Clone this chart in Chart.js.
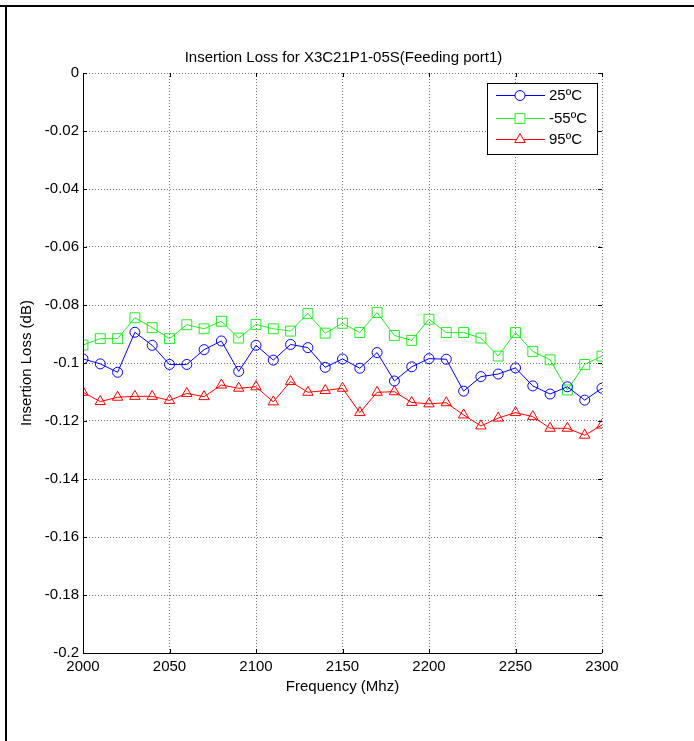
<!DOCTYPE html>
<html>
<head>
<meta charset="utf-8">
<script src="https://cdn.jsdelivr.net/npm/chart.js@4.4.1/dist/chart.umd.min.js"></script>
<style>
  html, body { margin: 0; padding: 0; background: #fff; }
  #wrap { position: relative; width: 694px; height: 741px; }
</style>
</head>
<body>
<div id="wrap"><canvas id="chart" width="694" height="741"></canvas></div>
<script>
// frequency points (MHz)
const freqs = [2000, 2010, 2020, 2030, 2040, 2050, 2060, 2070, 2080, 2090,
               2100, 2110, 2120, 2130, 2140, 2150, 2160, 2170, 2180, 2190,
               2200, 2210, 2220, 2230, 2240, 2250, 2260, 2270, 2280, 2290, 2300]

// insertion loss (dB)
const loss25 = [-0.0986, -0.1003, -0.1032, -0.0894, -0.0939, -0.1005, -0.1005, -0.0954, -0.0924, -0.1029,
                -0.0939, -0.0990, -0.0936, -0.0947, -0.1015, -0.0986, -0.1018, -0.0964, -0.1062, -0.1013,
                -0.0985, -0.0987, -0.1097, -0.1047, -0.1038, -0.1017, -0.1079, -0.1107, -0.1082, -0.1128, -0.1087]
const lossM55 = [-0.0938, -0.0916, -0.0916, -0.0844, -0.0878, -0.0916, -0.0868, -0.0882, -0.0856, -0.0914,
                 -0.0867, -0.0882, -0.0890, -0.0829, -0.0897, -0.0863, -0.0895, -0.0826, -0.0905, -0.0922,
                 -0.0849, -0.0895, -0.0895, -0.0914, -0.0976, -0.0895, -0.0960, -0.0989, -0.1093, -0.1005, -0.0976]
const loss95 = [-0.1101, -0.1133, -0.1118, -0.1115, -0.1115, -0.1129, -0.1105, -0.1116, -0.1076, -0.1087,
                -0.1082, -0.1134, -0.1064, -0.1101, -0.1095, -0.1087, -0.1171, -0.1101, -0.1099, -0.1136,
                -0.1141, -0.1137, -0.1179, -0.1217, -0.1190, -0.1171, -0.1185, -0.1225, -0.1225, -0.1249, -0.1214]

const seriesNames = ["25ºC", "-55ºC", "95ºC"]
const xTicks = [2000, 2050, 2100, 2150, 2200, 2250, 2300]
const yTicks = [0, -0.02, -0.04, -0.06, -0.08, -0.1, -0.12, -0.14, -0.16, -0.18, -0.2]
const chartTitle = "Insertion Loss for X3C21P1-05S(Feeding port1)"

const FONT = "'Liberation Sans', Arial, sans-serif"
const GRID = "rgba(0,0,0,0.55)"

const toPoints = (vals) => freqs.map((f, i) => ({ x: f, y: vals[i] }))

const makeSet = (name, vals, color, style, radius) => ({
    label: name,
    data: toPoints(vals),
    borderColor: color,
    backgroundColor: "rgba(0,0,0,0)",
    borderWidth: 1,
    pointStyle: style,
    pointRadius: radius,
    pointHoverRadius: radius,
    pointBorderColor: color,
    pointBackgroundColor: "rgba(0,0,0,0)",
    pointBorderWidth: 1,
    tension: 0
})

// figure frame, title, axes lines, inward ticks, legend
const decorations = {
    id: "decorations",
    beforeDraw(chart) {
        const ctx = chart.ctx
        ctx.save()
        ctx.fillStyle = "#000"
        ctx.fillRect(0, 5, chart.width, 2)
        ctx.fillRect(5, 5, 2, chart.height)
        ctx.restore()
    },
    afterDraw(chart) {
        const ctx = chart.ctx
        const xs = chart.scales.x, ys = chart.scales.y
        const a = chart.chartArea
        ctx.save()

        // title, centred over the axes box
        ctx.fillStyle = "#000"
        ctx.font = "15px " + FONT
        ctx.textAlign = "center"
        ctx.textBaseline = "middle"
        ctx.fillText(chartTitle, (a.left + a.right) / 2 + 1, 58)

        ctx.strokeStyle = "#000"
        ctx.lineWidth = 1
        ctx.beginPath()
        // left and bottom axis lines
        ctx.moveTo(Math.round(a.left) + 0.5, a.top)
        ctx.lineTo(Math.round(a.left) + 0.5, Math.round(a.bottom) + 0.5)
        ctx.lineTo(a.right, Math.round(a.bottom) + 0.5)
        xTicks.forEach(v => {
            const px = Math.round(xs.getPixelForValue(v)) + 0.5
            ctx.moveTo(px, a.bottom); ctx.lineTo(px, a.bottom - 4)
            ctx.moveTo(px, a.top); ctx.lineTo(px, a.top + 4)
        })
        yTicks.forEach(v => {
            const py = Math.round(ys.getPixelForValue(v)) + 0.5
            ctx.moveTo(a.left, py); ctx.lineTo(a.left + 4, py)
            ctx.moveTo(a.right, py); ctx.lineTo(a.right - 4, py)
        })
        ctx.stroke()

        // legend
        const lx = 487, ly = 83, lw = 110, lh = 71
        ctx.fillStyle = "#fff"
        ctx.fillRect(lx, ly, lw, lh)
        ctx.strokeStyle = "#000"
        ctx.strokeRect(lx + 0.5, ly + 0.5, lw, lh)
        ctx.font = "15px " + FONT
        ctx.textBaseline = "middle"
        ctx.textAlign = "left"
        const rows = [95, 118, 139]
        chart.data.datasets.forEach((ds, i) => {
            const y = rows[i] + 0.5
            ctx.strokeStyle = ds.borderColor
            ctx.beginPath()
            ctx.moveTo(496, y); ctx.lineTo(545, y)
            ctx.stroke()
            ctx.fillStyle = "#fff"
            Chart.helpers.drawPoint(ctx, {
                pointStyle: ds.pointStyle,
                radius: ds.pointRadius,
                borderWidth: 1,
                rotation: 0
            }, 520, y)
            ctx.fillStyle = "#000"
            ctx.fillText(seriesNames[i], 549, rows[i] + 1)
        })
        ctx.restore()
    }
}

const chart = new Chart(document.getElementById("chart"), {
    type: "line",
    data: {
        datasets: [
            makeSet(seriesNames[0], loss25, "#0000ff", "circle", 5),
            makeSet(seriesNames[1], lossM55, "#22ee22", "rect", 7),
            makeSet(seriesNames[2], loss95, "#ff0000", "triangle", 6)
        ]
    },
    options: {
        responsive: false,
        animation: false,
        events: [],
        layout: { padding: { left: 0, right: 92, top: 73, bottom: 0 } },
        plugins: {
            legend: { display: false },
            tooltip: { enabled: false },
            title: { display: false }
        },
        scales: {
            x: {
                type: "linear",
                min: 2000,
                max: 2300,
                afterFit: (s) => { s.height = 88 },
                afterBuildTicks: (s) => { s.ticks = xTicks.map(v => ({ value: v })) },
                ticks: {
                    color: "#000",
                    font: { family: FONT, size: 15 },
                    padding: 5,
                    maxRotation: 0,
                    callback: (v) => String(v)
                },
                grid: { drawTicks: false, color: GRID, lineWidth: 1 },
                border: { display: false, dash: [1, 2] },
                title: {
                    display: true,
                    text: "Frequency (Mhz)",
                    color: "#000",
                    font: { family: FONT, size: 15 },
                    padding: 45
                }
            },
            y: {
                type: "linear",
                min: -0.2,
                max: 0,
                afterFit: (s) => { s.width = 83 },
                afterBuildTicks: (s) => { s.ticks = yTicks.map(v => ({ value: v })) },
                ticks: {
                    color: "#000",
                    font: { family: FONT, size: 15 },
                    padding: 4,
                    callback: (v) => String(Math.round(v * 100) / 100)
                },
                grid: { drawTicks: false, color: GRID, lineWidth: 1 },
                border: { display: false, dash: [1, 2] },
                title: {
                    display: true,
                    text: "Insertion Loss (dB)",
                    color: "#000",
                    font: { family: FONT, size: 15 },
                    padding: 18
                }
            }
        }
    },
    plugins: [decorations]
})
</script>
</body>
</html>
